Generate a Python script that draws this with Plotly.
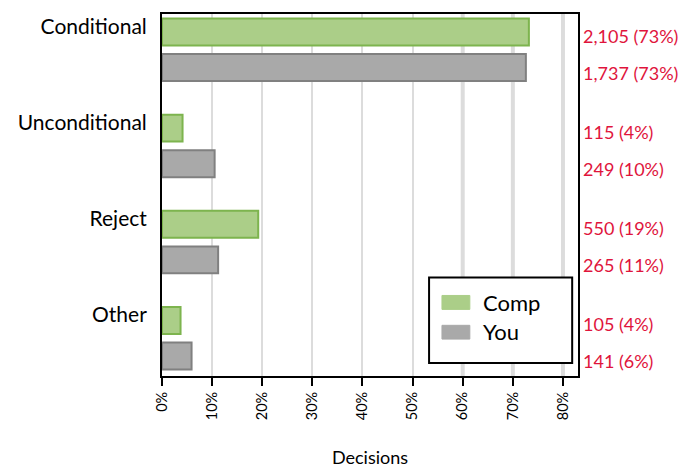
import plotly.graph_objects as go

categories = ["Conditional", "Unconditional", "Reject", "Other"]
series_names = ["Comp", "You"]
comp_pct = [73.2, 4.1, 19.2, 3.7]
you_pct = [72.6, 10.5, 11.2, 5.9]
comp_labels = ["2,105 (73%)", "115 (4%)", "550 (19%)", "105 (4%)"]
you_labels = ["1,737 (73%)", "249 (10%)", "265 (11%)", "141 (6%)"]
x_ticks = [0, 10, 20, 30, 40, 50, 60, 70, 80]
x_tick_text = ["0%", "10%", "20%", "30%", "40%", "50%", "60%", "70%", "80%"]
heavy_grid = [60, 70, 80]

FONT = "Lato, Open Sans, sans-serif"
GREEN_FILL, GREEN_LINE = "#ABCE88", "#7DB44E"
GRAY_FILL, GRAY_LINE = "#A9A9A9", "#808080"
RED = "#E0143C"

off = 0.185
bw = 0.28
idx = list(range(len(categories)))
y_comp = [i - off for i in idx]
y_you = [i + off for i in idx]

fig = go.Figure()
fig.add_trace(go.Bar(
    name=series_names[0], orientation="h", x=comp_pct, y=y_comp, width=bw,
    marker=dict(color=GREEN_FILL, line=dict(color=GREEN_LINE, width=2)),
    showlegend=False,
))
fig.add_trace(go.Bar(
    name=series_names[1], orientation="h", x=you_pct, y=y_you, width=bw,
    marker=dict(color=GRAY_FILL, line=dict(color=GRAY_LINE, width=2)),
    showlegend=False,
))

for g in heavy_grid:
    fig.add_shape(type="line", xref="x", yref="paper", x0=g, x1=g, y0=0, y1=1,
                  line=dict(color="#DCDCDC", width=4), layer="below")

for yc, t in zip(y_comp, comp_labels):
    fig.add_annotation(xref="paper", yref="y", x=1, y=yc, text=t, showarrow=False,
                       xanchor="left", xshift=3, yshift=-4,
                       font=dict(family=FONT, size=18, color=RED))
for yc, t in zip(y_you, you_labels):
    fig.add_annotation(xref="paper", yref="y", x=1, y=yc, text=t, showarrow=False,
                       xanchor="left", xshift=3, yshift=-5,
                       font=dict(family=FONT, size=18, color=RED))

# manual legend (box, swatches, labels)
fig.add_shape(type="rect", xref="paper", yref="paper", x0=0.642, x1=0.986, y0=0.036, y1=0.272,
              line=dict(color="black", width=2), fillcolor="white", layer="above")
legend_rows = [(series_names[0], GREEN_FILL, 0.184, 0.2225, 0.203),
               (series_names[1], GRAY_FILL, 0.102, 0.140, 0.124)]
for name, col, y0, y1, yt in legend_rows:
    fig.add_shape(type="rect", xref="paper", yref="paper", x0=0.673, x1=0.740, y0=y0, y1=y1,
                  line=dict(color=col, width=1), fillcolor=col, layer="above")
    fig.add_annotation(xref="paper", yref="paper", x=0.766, y=yt, text=name, showarrow=False,
                       xanchor="left", yanchor="middle",
                       font=dict(family=FONT, size=22, color="black"))

fig.update_layout(
    width=687, height=470,
    margin=dict(l=154, r=117, t=4, b=102),
    plot_bgcolor="white", paper_bgcolor="white",
    barmode="overlay",
    font=dict(family=FONT, color="black"),
    showlegend=False,
    xaxis=dict(range=[0, 83], tickvals=x_ticks, ticktext=x_tick_text,
               tickangle=-90, tickfont=dict(size=14.5, family=FONT),
               showgrid=True, gridcolor="#DCDCDC", gridwidth=2,
               showline=True, linecolor="black", linewidth=2, mirror=True,
               ticks="outside", ticklen=8, tickwidth=2, tickcolor="black",
               zeroline=False,
               title=dict(text="Decisions", font=dict(size=18, family=FONT), standoff=32)),
    yaxis=dict(range=[3.393, -0.372], tickvals=[i - 0.245 for i in idx],
               ticktext=categories, tickfont=dict(size=21, family=FONT),
               showgrid=False, zeroline=False,
               showline=True, linecolor="black", linewidth=2, mirror=True,
               ticks="", ticklabelstandoff=9),
)

fig.write_html("out.html")
